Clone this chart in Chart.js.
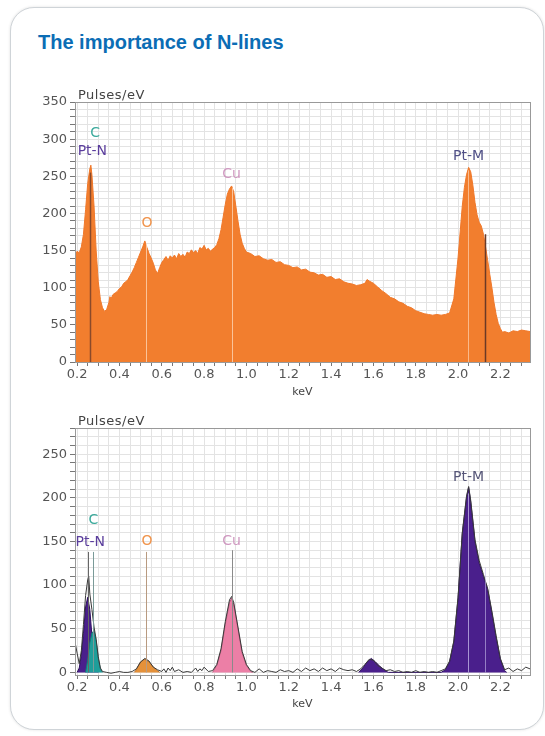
<!DOCTYPE html>
<html>
<head>
<meta charset="utf-8">
<script src="https://cdn.jsdelivr.net/npm/chart.js@4.4.1/dist/chart.umd.min.js"></script>
<style>
  html, body { margin: 0; padding: 0; background: #fff; }
  body { width: 545px; height: 736px; position: relative; overflow: hidden; font-family: "Liberation Sans", Arial, sans-serif; }
  .card { position: absolute; left: 10px; top: 7px; width: 534px; height: 723px; border: 1px solid #cfd4d8;
          border-radius: 24px; box-shadow: 0 0 3px rgba(0,0,0,0.12); box-sizing: border-box; background: #fff; }
  h1 { position: absolute; left: 38px; top: 31px; margin: 0; font-size: 20px; font-weight: bold; color: #0b6db5; }
  canvas { position: absolute; left: 0; }
</style>
</head>
<body>
<div class="card"></div>
<h1>The importance of N-lines</h1>
<canvas id="top" width="545" height="320" style="top:80px"></canvas>
<canvas id="bottom" width="545" height="320" style="top:400px"></canvas>
<script>
// x tick labels (keV) and y tick labels
const xTickLabels = [0.2, 0.4, 0.6, 0.8, 1.0, 1.2, 1.4, 1.6, 1.8, 2.0, 2.2];
const topYLabels = [0, 50, 100, 150, 200, 250, 300, 350];
const bottomYLabels = [0, 50, 100, 150, 200, 250];

// element lines
const elements = ['C', 'Pt-N', 'O', 'Cu', 'Pt-M'];
const elementEnergy = [0.277, 0.25, 0.525, 0.93, 2.05];

// top: measured spectrum (pulses/eV)
const topEnergy = [0.19,0.20,0.21,0.22,0.23,0.24,0.25,0.26,0.265,0.27,0.28,0.29,0.30,0.31,0.32,0.33,0.34,0.35,0.355,0.36,
  0.37,0.38,0.39,0.40,0.41,0.42,0.43,0.44,0.45,0.46,0.47,0.48,0.49,0.50,0.51,0.52,0.53,0.54,0.55,0.56,
  0.57,0.58,0.59,0.60,0.61,0.62,0.63,0.64,0.65,0.66,0.67,0.68,0.69,0.70,0.71,0.72,0.73,0.74,0.75,0.76,
  0.77,0.78,0.79,0.80,0.81,0.82,0.83,0.84,0.85,0.86,0.87,0.88,0.89,0.90,0.91,0.92,0.93,0.94,0.95,0.96,
  0.97,0.98,0.99,1.00,1.02,1.04,1.06,1.08,1.10,1.12,1.14,1.16,1.18,1.20,1.22,1.24,1.26,1.28,1.30,1.32,
  1.34,1.36,1.38,1.40,1.42,1.44,1.46,1.48,1.50,1.52,1.54,1.56,1.57,1.58,1.60,1.62,1.64,1.66,1.68,1.70,
  1.72,1.74,1.76,1.78,1.80,1.82,1.84,1.86,1.88,1.90,1.92,1.94,1.96,1.98,2.00,2.01,2.02,2.03,2.04,2.05,
  2.06,2.07,2.08,2.09,2.10,2.11,2.12,2.13,2.14,2.15,2.16,2.17,2.18,2.19,2.20,2.21,2.22,2.24,2.26,2.28,
  2.30,2.32,2.34];
const topCounts = [146,149,147,155,172,205,240,260,265,252,210,150,108,84,73,68,71,80,88,85,
  91,93,95,99,101,106,108,111,116,121,127,134,141,148,155,163,154,146,140,133,
  124,119,127,134,138,142,137,143,140,144,139,146,142,145,141,148,146,151,147,150,
  146,154,152,157,151,153,149,152,154,158,166,178,195,212,226,233,237,229,210,190,
  172,160,153,148,146,142,143,139,137,138,134,135,131,130,127,128,124,125,121,120,
  117,118,114,115,111,112,108,106,105,103,104,106,111,109,106,101,96,92,87,85,
  81,79,75,73,69,67,65,64,63,64,63,64,66,85,140,175,210,235,252,262,
  256,238,215,198,188,183,172,155,137,118,100,80,64,52,45,40,41,39,42,41,
  43,42,41];

// bottom: fitted peaks
const ptNEnergy = [0.20,0.21,0.22,0.23,0.24,0.25,0.26,0.27,0.28,0.29,0.30];
const ptNCounts = [0,5,20,45,75,86,72,42,16,4,0];
const cEnergy = [0.24,0.25,0.26,0.27,0.28,0.29,0.30,0.31,0.32];
const cCounts = [0,14,34,45,48,36,16,4,0];
const oEnergy = [0.47,0.48,0.49,0.50,0.52,0.54,0.56,0.58,0.59];
const oCounts = [0,3,8,12,15,12,6,2,0];
const cuEnergy = [0.84,0.86,0.88,0.90,0.92,0.93,0.94,0.96,0.98,1.00,1.02,1.03];
const cuCounts = [0,8,25,55,80,85,78,50,22,8,1,0];
const ptMEnergy = [1.53,1.55,1.57,1.59,1.61,1.63,1.65,1.67,
  1.92,1.94,1.96,1.98,2.00,2.02,2.04,2.05,2.06,2.08,2.10,2.12,2.14,2.16,2.18,2.20,2.22,2.23];
const ptMCounts = [0,5,12,16,12,7,3,0,
  0,3,12,35,85,159,200,212,195,150,125,110,95,68,40,15,2,0];

// bottom: measured line
const measEnergy = [0.19,0.20,0.21,0.22,0.23,0.24,0.25,0.255,0.26,0.27,0.28,0.29,0.30,0.31,0.32,0.34,0.36,0.38,0.40,0.42,
  0.44,0.46,0.48,0.50,0.52,0.54,0.56,0.58,0.60,0.61,0.62,0.63,0.64,0.65,0.66,0.68,0.70,0.72,0.74,0.76,
  0.77,0.78,0.79,0.80,0.82,0.84,0.86,0.88,0.90,0.92,0.93,0.94,0.96,0.98,1.00,1.02,1.04,1.06,1.08,1.10,
  1.12,1.14,1.16,1.18,1.20,1.22,1.24,1.26,1.28,1.30,1.32,1.34,1.36,1.38,1.40,1.42,1.44,1.46,1.48,1.50,
  1.52,1.54,1.56,1.58,1.60,1.62,1.64,1.66,1.68,1.70,1.72,1.74,1.76,1.78,1.80,1.82,1.84,1.86,1.88,1.90,
  1.92,1.94,1.96,1.98,2.00,2.02,2.04,2.05,2.06,2.08,2.10,2.12,2.14,2.16,2.18,2.20,2.22,2.24,2.26,2.28,
  2.30,2.32,2.34];
const measCounts = [35,22,10,25,55,88,106,110,90,72,52,38,18,5,1,0,-1,0,1,0,
  0,1,4,12,16,13,6,3,1,4,0,5,2,6,1,3,0,1,0,5,
  1,4,2,6,1,2,9,27,58,83,87,80,52,24,9,2,0,4,0,2,
  1,0,3,1,2,0,4,1,5,2,4,1,5,2,4,1,5,3,2,3,
  1,4,9,15,14,8,5,2,3,1,2,0,1,0,2,0,1,0,1,0,
  2,4,13,36,86,160,202,213,197,152,128,112,96,70,42,16,3,5,1,4,
  2,6,4];

const pts = (xs, ys) => xs.map((e, i) => ({ x: e, y: ys[i] }));
const xGrid = []; for (let i = 4; i <= 46; i++) xGrid.push(+(i * 0.05).toFixed(2));
const yGrid = []; for (let v = 0; v <= 350; v += 10) yGrid.push(v);

const tickFont = { family: 'DejaVu Sans', size: 13 };

function xScale(axisHeight, titlePad) {
  return {
    type: 'linear', min: 0.19, max: 2.34, bounds: 'data',
    afterBuildTicks: s => { s.ticks = xGrid.map(v => ({ value: v })); },
    afterFit: s => { s.height = axisHeight; },
    ticks: {
      autoSkip: false, maxRotation: 0, padding: 1, color: '#555', font: tickFont,
      callback: v => xTickLabels.some(t => Math.abs(t - v) < 1e-6) ? v.toFixed(1) : ''
    },
    grid: { color: '#e3e3e3', tickLength: 4, tickColor: '#777' },
    border: { color: '#555' },
    title: { display: true, text: 'keV', color: '#444', font: { family: 'DejaVu Sans', size: 11 },
             padding: { top: 0, bottom: titlePad } }
  };
}

function yScale(min, max, labels) {
  return {
    type: 'linear', min: min, max: max, bounds: 'data',
    afterBuildTicks: s => { s.ticks = yGrid.filter(v => v <= max).map(v => ({ value: v })); },
    afterFit: s => { s.width = 75; },
    ticks: {
      autoSkip: false, padding: 3, color: '#555', font: tickFont,
      callback: v => labels.includes(v) ? String(v) : ''
    },
    grid: { color: '#e3e3e3', tickLength: 5, tickColor: '#777' },
    border: { color: '#555' }
  };
}

const decor = {
  id: 'decor',
  afterDatasetsDraw(chart, args, opts) {
    const { ctx, chartArea: a, scales: { x, y } } = chart;
    ctx.save();
    opts.lines.forEach(l => {
      const px = Math.round(x.getPixelForValue(l.e)) + 0.5;
      ctx.strokeStyle = l.color;
      ctx.lineWidth = l.w || 1;
      ctx.beginPath();
      ctx.moveTo(px, y.getPixelForValue(0));
      ctx.lineTo(px, y.getPixelForValue(l.to));
      ctx.stroke();
    });
    ctx.font = '14px "DejaVu Sans"';
    ctx.textAlign = 'center';
    ctx.textBaseline = 'middle';
    opts.labels.forEach(t => {
      ctx.fillStyle = t.color;
      ctx.fillText(t.text, x.getPixelForValue(t.e), y.getPixelForValue(t.v));
    });
    ctx.strokeStyle = '#999';
    ctx.lineWidth = 1;
    ctx.strokeRect(a.left + 0.5, a.top + 0.5, a.right - a.left, a.bottom - a.top);
    ctx.fillStyle = '#444';
    ctx.font = '13px "DejaVu Sans"';
    ctx.textAlign = 'left';
    ctx.textBaseline = 'alphabetic';
    if ('letterSpacing' in ctx) ctx.letterSpacing = '0.5px';
    ctx.fillText('Pulses/eV', a.left + 3, a.top - 3);
    ctx.restore();
  }
};

const labelColor = { 'C': '#3aa99b', 'Pt-N': '#5a3d9c', 'O': '#f0934a', 'Cu': '#cf98c0', 'Pt-M': '#4f4f86' };

new Chart(document.getElementById('top'), {
  type: 'line',
  data: {
    datasets: [{
      data: pts(topEnergy, topCounts),
      fill: 'origin', backgroundColor: '#f27e2e', borderColor: '#f0782a', borderWidth: 1,
      pointRadius: 0, tension: 0
    }]
  },
  options: {
    responsive: false, animation: false,
    layout: { padding: { top: 22, right: 15, left: 0, bottom: 0 } },
    plugins: {
      legend: { display: false }, tooltip: { enabled: false },
      decor: {
        lines: [
          { e: elementEnergy[1] + 0.01, to: 255, color: '#8a4a2a', w: 1.5 },
          { e: elementEnergy[2], to: 160, color: 'rgba(255,225,200,0.7)' },
          { e: elementEnergy[3], to: 234, color: 'rgba(255,225,200,0.7)' },
          { e: elementEnergy[4] - 0.005, to: 258, color: 'rgba(255,225,200,0.6)' },
          { e: 2.125, to: 172, color: '#6b3a26', w: 1.5 }
        ],
        labels: [
          { text: elements[0], e: 0.285, v: 308, color: labelColor['C'] },
          { text: elements[1], e: 0.272, v: 283, color: labelColor['Pt-N'] },
          { text: elements[2], e: 0.53, v: 187, color: labelColor['O'] },
          { text: elements[3], e: 0.93, v: 252, color: labelColor['Cu'] },
          { text: elements[4], e: 2.05, v: 277, color: labelColor['Pt-M'] }
        ]
      }
    },
    scales: { x: xScale(38, 1), y: yScale(0, 350, topYLabels) }
  },
  plugins: [decor]
});

new Chart(document.getElementById('bottom'), {
  type: 'line',
  data: {
    datasets: [
      { data: pts(measEnergy, measCounts), fill: false, borderColor: '#3a3a3a', borderWidth: 1, pointRadius: 0, order: 0 },
      { data: pts(cEnergy, cCounts), fill: 'origin', backgroundColor: '#1f9e9a', borderColor: '#167a76', borderWidth: 1, pointRadius: 0, order: 1 },
      { data: pts(ptNEnergy, ptNCounts), fill: 'origin', backgroundColor: '#4a1f8c', borderColor: '#2e1060', borderWidth: 1, pointRadius: 0, order: 2 },
      { data: pts(oEnergy, oCounts), fill: 'origin', backgroundColor: '#e5913a', borderColor: '#b8702a', borderWidth: 1, pointRadius: 0, order: 3 },
      { data: pts(cuEnergy, cuCounts), fill: 'origin', backgroundColor: '#ec7fa6', borderColor: '#b85a7c', borderWidth: 1, pointRadius: 0, order: 4 },
      { data: pts(ptMEnergy, ptMCounts), fill: 'origin', backgroundColor: '#4a1f8c', borderColor: '#2e1060', borderWidth: 1, pointRadius: 0, order: 5 }
    ]
  },
  options: {
    responsive: false, animation: false,
    layout: { padding: { top: 28, right: 15, left: 0, bottom: 0 } },
    plugins: {
      legend: { display: false }, tooltip: { enabled: false },
      decor: {
        lines: [
          { e: elementEnergy[1], to: 138, color: '#666' },
          { e: elementEnergy[0], to: 138, color: '#7a9a98' },
          { e: elementEnergy[2], to: 138, color: '#b89a80' },
          { e: elementEnergy[3], to: 140, color: '#8a8a8a' },
          { e: elementEnergy[4] - 0.005, to: 205, color: 'rgba(200,190,235,0.75)' },
          { e: 2.125, to: 120, color: 'rgba(200,190,235,0.6)' }
        ],
        labels: [
          { text: elements[0], e: 0.277, v: 174, color: labelColor['C'] },
          { text: elements[1], e: 0.262, v: 149, color: labelColor['Pt-N'] },
          { text: elements[2], e: 0.53, v: 150, color: labelColor['O'] },
          { text: elements[3], e: 0.93, v: 150, color: labelColor['Cu'] },
          { text: elements[4], e: 2.05, v: 224, color: '#555577' }
        ]
      }
    },
    scales: { x: xScale(45, 9), y: yScale(-3, 280, bottomYLabels) }
  },
  plugins: [decor]
});
</script>
</body>
</html>
